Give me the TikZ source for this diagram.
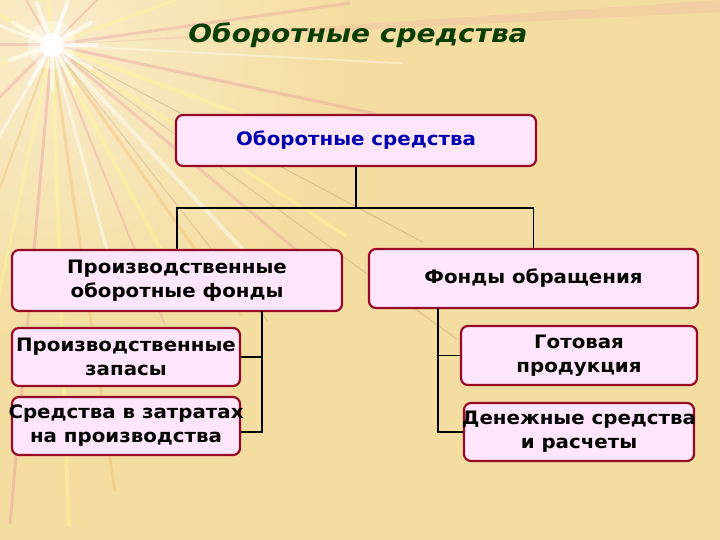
\documentclass[tikz,border=0pt]{standalone}
\usepackage{fontspec}
\setmainfont{DejaVu Sans}
\newfontfamily\boxfont[FakeStretch=1.07]{DejaVu Sans}
\newfontfamily\titlefont[FakeStretch=1.12]{DejaVu Sans}
\definecolor{bg}{RGB}{244,221,160}
\definecolor{boxfill}{RGB}{255,230,252}
\definecolor{boxline}{RGB}{150,10,40}
\definecolor{titlegreen}{RGB}{10,62,0}
\definecolor{topblue}{RGB}{0,0,175}
\definecolor{raypink}{RGB}{235,160,160}
\definecolor{rayyellow}{RGB}{255,245,150}
\definecolor{rayorange}{RGB}{240,190,110}
\definecolor{raybrown}{RGB}{170,140,100}
\tikzset{
  box/.style={draw=boxline, fill=boxfill, line width=2.2pt, rounded corners=7pt,
    align=center, font=\boxfont\bfseries\fontsize{18.5}{24}\selectfont,
    inner xsep=-6pt, inner ysep=0pt},
  conn/.style={line width=1.8pt, black},
  ray/.style={line cap=round}
}
\begin{document}
\begin{tikzpicture}[x=1pt,y=-1pt]
\useasboundingbox (0,0) rectangle (720,540);
\fill[bg] (0,0) rectangle (720,540);
% light burst in the top left corner
\begin{scope}
\clip (0,0) rectangle (720,540);
\shade[inner color=white!45!bg, outer color=bg] (52,45) circle (300);
\fill[raypink, opacity=0.22] (52,45) -- (720,0) -- (720,12) -- cycle;
\foreach \a/\c/\w/\o/\l in {
  -150/rayyellow/3/0.6/120, -120/raypink/2/0.4/100, -95/rayyellow/3/0.6/90, -70/white/3/0.5/90,
  -45/raypink/2/0.4/110, -20/rayyellow/3/0.5/200, -8/raypink/3/0.4/300, 3/white/2/0.4/350,
  12/raypink/3/0.45/330, 20/rayyellow/4/0.5/300, 28/raybrown/1/0.35/420, 33/rayyellow/3/0.5/350,
  40/raypink/3/0.4/320, 47/white/4/0.45/300, 55/rayorange/3/0.4/330, 62/rayyellow/4/0.5/280,
  68/raypink/2/0.4/300, 75/white/3/0.5/260, 82/rayorange/3/0.4/450, 88/rayyellow/4/0.5/480,
  95/raypink/3/0.45/480, 102/rayyellow/3/0.5/450, 110/rayorange/2/0.4/350, 120/white/3/0.5/200,
  135/raypink/3/0.4/150, 160/rayyellow/3/0.5/100, 180/raypink/3/0.4/80, 200/white/3/0.5/70,
  36/raybrown/1/0.3/500, 52/raybrown/1/0.3/350}
  \draw[ray, draw=\c, line width=\w pt, opacity=\o] (52,45) -- ++({\a}:\l);
\foreach \a in {0,30,60,90,120,160,210,250,290,330}
  \draw[ray, white, line width=4pt, opacity=0.6] (52,45) -- ++({\a}:45);
\fill[white, opacity=0.85] (52,45) circle (12);
\fill[white, opacity=0.4] (52,45) circle (24);
\end{scope}
% title
\node (title) at (358,35) {\titlefont\fontsize{25}{30}\selectfont\bfseries\itshape\color{titlegreen}Оборотные средства};
% boxes
\node[box, minimum width=360pt, minimum height=51pt, text=topblue] (top) at (356,140.5) {Оборотные средства};
\node[box, minimum width=330pt, minimum height=61pt] (lm) at (177,280.5) {Производственные\\оборотные фонды};
\node[box, minimum width=329pt, minimum height=59pt] (rm) at (533.5,278.5) {Фонды обращения};
\node[box, minimum width=228pt, minimum height=58pt] (ls1) at (126,357) {Производственные\\запасы};
\node[box, minimum width=228pt, minimum height=58pt] (ls2) at (126,426) {Средства в затратах\\на производства};
\node[box, minimum width=236pt, minimum height=59pt] (rs1) at (579,355.5) {Готовая\\продукция};
\node[box, minimum width=230pt, minimum height=58pt] (rs2) at (579,432) {Денежные средства\\и расчеты};
% connectors
\coordinate (j) at (356,208);
\draw[conn] (top.south) -- (j);
\draw[conn] (lm.north) |- (j) -| (rm.north);
\coordinate (lv) at (262,311);
\draw[conn] (ls1.east) -- (ls1.east -| lv);
\draw[conn] (lv) |- ([yshift=-6pt]ls2.east);
\coordinate (rv) at (438,308);
\draw[conn] (rv) |- (rs2.west);
\draw[conn] (rs1.west) -- (rs1.west -| rv);
\end{tikzpicture}
\end{document}
